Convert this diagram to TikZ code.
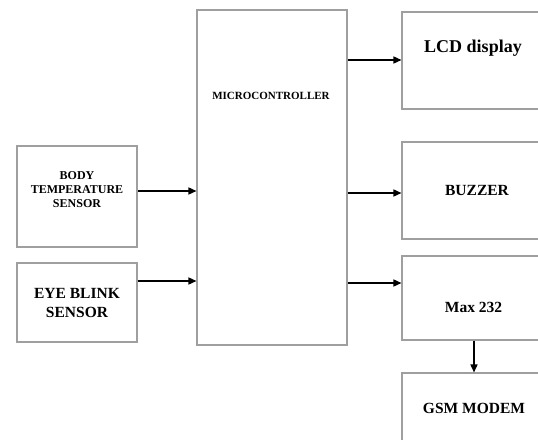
\documentclass[tikz,border=0pt]{standalone}
\usepackage{fontspec}
\setmainfont{Liberation Serif}
\usetikzlibrary{positioning, arrows.meta}

\begin{document}
\begin{tikzpicture}[
    x=1pt, y=1pt,
    box/.style={draw=gray!75, line width=1.1pt, minimum width=150pt},
    sbox/.style={draw=gray!75, line width=1.1pt, minimum width=120pt},
    lbl/.style={font=\bfseries\fontsize{15.5}{19}\selectfont, align=center, inner sep=0pt},
    arr/.style={-{Triangle[length=8pt, width=7pt]}, line width=1.5pt},
]
\clip (0,0) rectangle (538,-439);
\fill[white] (0,0) rectangle (538,-439);

% Microcontroller
\node[box, minimum height=335pt] (mcu) at (272,-177.5) {};
\node[lbl, font=\bfseries\fontsize{11}{13}\selectfont, anchor=base] (mcutxt) at (271,-99) {MICROCONTROLLER};

% Left -- sensors
\node[sbox, minimum height=101pt] (body) at (77,-196.5) {};
\node[lbl, font=\bfseries\fontsize{12}{14}\selectfont] (bodytxt) at (77,-189.5) {BODY\\TEMPERATURE\\SENSOR};
\node[sbox, lbl, minimum height=79pt] (eye) at (77,-302.5) {EYE BLINK\\SENSOR};
\draw[arr] ([yshift=5.5]body.east) -- ([yshift=5.5]body.east -| mcu.west);
\draw[arr] ([yshift=21.5]eye.east) -- ([yshift=21.5]eye.east -| mcu.west);

% Right -- outputs
\node[box, minimum height=97pt] (lcd) at (477,-60.5) {};
\node[lbl, font=\bfseries\fontsize{18}{22}\selectfont, anchor=base] (lcdtxt) at (473,-52) {LCD display};
\node[box, lbl, minimum height=97pt] (buzz) at (477,-190.5) {BUZZER};
\node[box, minimum height=84pt] (max) at (477,-298) {};
\node[lbl, anchor=base] (maxtxt) at (473.5,-312) {Max 232};
\node[box, minimum height=87pt] (gsm) at (477,-416.5) {};
\node[lbl, anchor=base] (gsmtxt) at (474,-413) {GSM MODEM};
\draw[arr] ([yshift=0.5]lcd.west -| mcu.east) -- ([yshift=0.5]lcd.west);
\draw[arr] ([yshift=-2.5]buzz.west -| mcu.east) -- ([yshift=-2.5]buzz.west);
\draw[arr] ([yshift=15]max.west -| mcu.east) -- ([yshift=15]max.west);
\draw[arr] ([xshift=-3]max.south) -- ([xshift=-3]gsm.north);
\end{tikzpicture}
\end{document}
